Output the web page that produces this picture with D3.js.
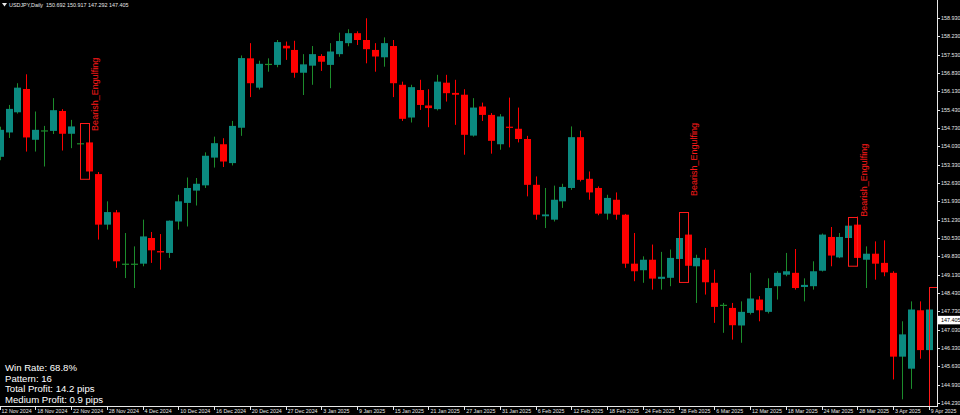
<!DOCTYPE html>
<html><head><meta charset="utf-8">
<script src="https://cdn.jsdelivr.net/npm/d3@7"></script>
<style>html,body{margin:0;padding:0;background:#000;overflow:hidden}</style>
</head><body><svg id="c" width="960" height="415"></svg>
<script>
// ---- data (USDJPY daily, bars 12 Nov 2024 .. 9 Apr 2025) ----
const openP  = [153.63,154.56,155.33,156.22,154.28,154.62,154.62,155.38,154.51,154.13,154.18,152.97,151.04,151.51,149.53,149.53,149.55,150.53,150.03,149.96,151.16,151.87,152.34,152.54,153.60,154.11,153.39,154.74,157.39,156.27,157.15,157.14,157.87,157.71,156.84,157.11,157.48,157.14,157.55,157.97,158.35,158.09,157.71,157.43,157.86,156.38,155.13,156.18,155.59,155.45,156.46,156.07,156.00,154.44,155.55,155.23,154.11,154.78,154.70,154.31,152.56,151.36,151.23,151.93,152.44,154.38,152.79,152.44,151.46,151.99,151.42,149.55,149.30,149.70,148.97,149.01,149.73,150.66,149.45,149.70,148.82,147.95,147.86,147.19,147.67,148.18,147.71,148.69,149.13,149.20,148.66,148.69,149.28,150.57,149.79,150.53,151.04,149.70,149.93,149.58,149.20,146.00,145.54,147.77,146.25];
const highP  = [154.78,155.61,156.44,156.78,155.36,154.81,155.87,155.45,155.04,154.91,154.30,153.05,151.93,151.60,150.72,150.21,151.23,150.76,150.68,151.20,152.18,152.84,152.82,153.80,154.40,154.34,155.00,157.50,157.97,157.30,157.39,158.09,158.03,158.06,157.55,157.86,157.55,157.97,158.37,158.50,158.42,158.92,157.97,158.19,158.09,156.50,156.38,156.57,156.21,156.76,156.76,156.57,156.21,155.87,155.70,155.30,155.26,155.89,155.51,154.43,152.88,152.44,152.53,152.60,154.79,154.63,153.07,152.50,152.18,152.27,151.45,150.72,149.83,150.28,150.00,150.09,150.97,151.51,149.89,150.15,149.32,148.05,148.05,148.11,149.20,148.31,148.99,149.26,149.96,150.11,148.99,149.64,150.70,150.95,150.72,151.13,151.35,150.21,150.40,150.44,149.26,147.35,148.11,148.11,148.11];
const lowP   = [153.50,154.35,155.28,153.83,153.83,153.26,154.50,153.87,153.96,153.95,152.78,150.47,150.85,149.39,149.00,148.62,149.45,149.58,149.32,149.77,150.85,150.97,151.77,152.44,153.22,153.24,153.30,154.43,155.91,156.20,156.88,157.05,157.33,156.65,155.99,156.38,156.91,156.25,157.45,157.85,157.90,157.20,156.88,157.07,155.91,155.00,154.94,155.42,154.76,155.40,155.74,154.85,153.71,154.40,155.00,153.75,153.90,153.99,154.18,152.12,151.23,150.91,151.16,151.68,152.37,152.69,151.99,151.40,151.23,151.23,149.39,148.88,148.82,148.56,148.56,148.69,148.84,149.40,148.05,148.37,147.29,146.91,146.65,146.53,147.61,147.35,147.65,148.18,149.07,148.56,148.11,148.56,149.25,149.45,149.76,150.45,149.49,148.62,148.94,149.07,145.13,144.37,144.77,145.92,144.10];
const closeP = [154.66,155.46,156.27,154.37,154.66,154.64,155.41,154.51,154.79,154.15,153.07,151.04,151.52,149.64,149.55,149.55,150.59,150.06,149.98,151.19,151.93,152.44,152.60,153.67,154.15,153.45,154.81,157.40,156.44,157.18,157.18,158.01,157.77,156.84,157.16,157.55,157.26,157.65,158.05,158.35,158.09,157.74,157.46,157.97,156.44,155.08,156.29,155.61,155.49,156.50,156.06,156.00,154.47,155.51,155.23,154.24,155.17,154.74,154.31,152.56,151.42,151.43,151.99,152.48,154.38,152.75,152.27,151.46,152.06,151.42,149.55,149.26,149.70,148.98,149.05,149.77,150.53,149.47,149.77,148.84,147.90,147.98,147.20,147.71,148.22,147.77,148.62,149.20,149.26,148.62,148.74,149.26,150.66,149.86,150.57,151.00,149.77,149.93,149.55,149.22,146.00,146.85,147.80,146.25,147.80];

const dateTickLabels = ["12 Nov 2024","18 Nov 2024","22 Nov 2024","28 Nov 2024","4 Dec 2024","10 Dec 2024","16 Dec 2024","20 Dec 2024","27 Dec 2024","3 Jan 2025","9 Jan 2025","15 Jan 2025","21 Jan 2025","27 Jan 2025","31 Jan 2025","6 Feb 2025","12 Feb 2025","18 Feb 2025","24 Feb 2025","28 Feb 2025","6 Mar 2025","12 Mar 2025","18 Mar 2025","24 Mar 2025","28 Mar 2025","3 Apr 2025","9 Apr 2025"];
const dateTickBars = [0,4,8,12,16,20,24,28,32,36,40,44,48,52,56,60,64,68,72,76,80,84,88,92,96,100,104];

const priceTicks = [158.93,158.23,157.53,156.83,156.13,155.43,154.73,154.03,153.33,152.63,151.93,151.23,150.53,149.83,149.13,148.43,147.73,147.03,146.33,145.63,144.93,144.23];

const patternBars    = [9, 76, 95, 104];
const patternTops    = [154.91, 151.51, 151.35, 148.66];
const patternBottoms = [152.78, 148.84, 149.49, 143.50];
const patternLabelAt = [154.62, 152.13, 151.34, null];
const patternName = "Bearish_Engulfing";

const statLines = ["Win Rate: 68.8%", "Pattern: 16", "Total Profit: 14.2 pips", "Medium Profit: 0.9 pips"];
const headerText = "USDJPY,Daily  150.692 150.917 147.292 147.405";
const lastPrice = 147.405;

// ---- layout ----
const W = 960, H = 415, plotR = 937, plotB = 406;
const svg = d3.select("#c");
svg.append("rect").attr("width", W).attr("height", H).attr("fill", "#000");

const x = d3.scaleLinear().domain([0, 104]).range([-0.4, 928.8]);
const y = d3.scaleLinear().domain([144.23, 158.93]).range([403, 18]);

const BULL = "#0b8a80", BEAR = "#ff0000", BULLW = "#1c8c2c", BEARW = "#ff0000";

svg.append("defs").append("clipPath").attr("id", "pc")
  .append("rect").attr("x", 0).attr("y", 0).attr("width", plotR).attr("height", plotB);
const g = svg.append("g").attr("clip-path", "url(#pc)");

const bars = d3.range(openP.length);
// wicks
g.selectAll("line.w").data(bars).enter().append("line")
  .attr("x1", i => Math.round(x(i)) + 0.5).attr("x2", i => Math.round(x(i)) + 0.5)
  .attr("y1", i => y(highP[i])).attr("y2", i => y(lowP[i]))
  .attr("stroke", i => closeP[i] >= openP[i] ? BULLW : BEARW).attr("stroke-width", 1);
// bodies
g.selectAll("rect.b").data(bars).enter().append("rect")
  .attr("x", i => Math.round(x(i)) - 3)
  .attr("width", 7)
  .attr("y", i => y(Math.max(openP[i], closeP[i])))
  .attr("height", i => Math.max(1.2, Math.abs(y(openP[i]) - y(closeP[i]))))
  .attr("fill", i => {
    const d = Math.abs(y(openP[i]) - y(closeP[i]));
    if (d < 1.5) return closeP[i] >= openP[i] ? BULLW : BEARW;
    return closeP[i] >= openP[i] ? BULL : BEAR;
  });

// pattern boxes
const pat = d3.range(patternBars.length);
g.selectAll("rect.p").data(pat).enter().append("rect")
  .attr("x", k => Math.round(x(patternBars[k])) + 0.5)
  .attr("width", k => Math.round(x(patternBars[k] + 1)) - Math.round(x(patternBars[k])))
  .attr("y", k => Math.round(y(patternTops[k])) + 0.5)
  .attr("height", k => y(patternBottoms[k]) - y(patternTops[k]))
  .attr("fill", "none").attr("stroke", "#ff1a1a").attr("stroke-width", 1);
g.selectAll("text.p").data(pat.filter(k => patternLabelAt[k] !== null)).enter().append("text")
  .attr("transform", k => `translate(${x(patternBars[k] + 1) + 9.5},${y(patternLabelAt[k])}) rotate(-90)`)
  .attr("font-family", "Liberation Sans, Arial, sans-serif").attr("font-size", 9)
  .attr("fill", "#ff1a1a").text(patternName);

// right axis
svg.append("line").attr("x1", plotR + 0.5).attr("x2", plotR + 0.5).attr("y1", 0).attr("y2", plotB)
  .attr("stroke", "#e8e8e8").attr("stroke-width", 1);
const ra = svg.append("g");
ra.selectAll("line").data(priceTicks).enter().append("line")
  .attr("x1", plotR).attr("x2", plotR + 3)
  .attr("y1", v => Math.round(y(v)) + 0.5).attr("y2", v => Math.round(y(v)) + 0.5)
  .attr("stroke", "#e8e8e8");
ra.selectAll("text").data(priceTicks).enter().append("text")
  .attr("x", plotR + 4).attr("y", v => y(v) + 2)
  .attr("font-family", "Liberation Sans, Arial, sans-serif").attr("font-size", 5.4)
  .attr("fill", "#e8e8e8").text(v => v.toFixed(3));
// current price tag
svg.append("rect").attr("x", plotR + 1).attr("y", y(lastPrice) - 4).attr("width", W - plotR - 1).attr("height", 8.5)
  .attr("fill", "#ffffff");
svg.append("text").attr("x", plotR + 4).attr("y", y(lastPrice) + 2)
  .attr("font-family", "Liberation Sans, Arial, sans-serif").attr("font-size", 5.4)
  .attr("fill", "#000").text(lastPrice.toFixed(3));

// bottom axis
svg.append("line").attr("x1", 0).attr("x2", plotR + 1).attr("y1", plotB + 0.5).attr("y2", plotB + 0.5)
  .attr("stroke", "#e8e8e8");
const ba = svg.append("g");
ba.selectAll("line").data(dateTickBars).enter().append("line")
  .attr("x1", b => Math.round(x(b)) + 0.5).attr("x2", b => Math.round(x(b)) + 0.5)
  .attr("y1", plotB).attr("y2", plotB + 4).attr("stroke", "#e8e8e8");
ba.selectAll("text").data(dateTickBars).enter().append("text")
  .attr("x", (b, k) => Math.max(0, x(b) + 2)).attr("y", 413)
  .attr("font-family", "Liberation Sans, Arial, sans-serif").attr("font-size", 5.3)
  .attr("fill", "#e8e8e8").text((b, k) => dateTickLabels[k]);

// header
svg.append("path").attr("d", "M2,3 L7,3 L4.5,6.5 Z").attr("fill", "#e8e8e8");
svg.append("text").attr("x", 9).attr("y", 6.5)
  .attr("font-family", "Liberation Sans, Arial, sans-serif").attr("font-size", 5.4)
  .attr("fill", "#e8e8e8").attr("xml:space", "preserve").text(headerText);

// stats
svg.selectAll("text.s").data(statLines).enter().append("text")
  .attr("x", 5).attr("y", (d, k) => 371 + k * 10.7)
  .attr("font-family", "Liberation Sans, Arial, sans-serif").attr("font-size", 9.6)
  .attr("fill", "#ffffff").text(d => d);
</script></body></html>
